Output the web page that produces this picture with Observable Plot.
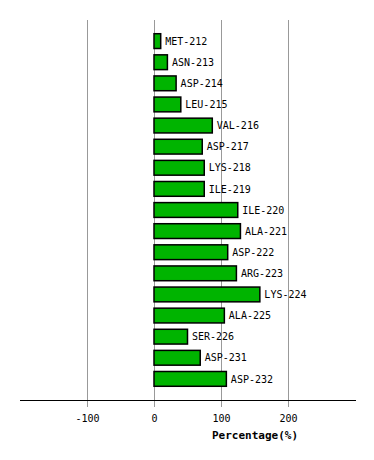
<!DOCTYPE html>
<html>
<head>
<meta charset="utf-8">
<script src="https://cdn.jsdelivr.net/npm/d3@7"></script>
<script src="https://cdn.jsdelivr.net/npm/@observablehq/plot@0.6"></script>
<style>
  html, body { margin: 0; padding: 0; background: #fff; }
</style>
</head>
<body>
<div id="chart"></div>
<script>
const residues = ["MET-212","ASN-213","ASP-214","LEU-215","VAL-216","ASP-217","LYS-218","ILE-219","ILE-220","ALA-221","ASP-222","ARG-223","LYS-224","ALA-225","SER-226","ASP-231","ASP-232"];
const percentages = [10, 20, 33, 40, 87, 72, 75, 75, 125, 129, 110, 123, 158, 105, 50, 69, 108];
const xTicks = [-100, 0, 100, 200];
const xDomain = [-200, 300];
const axisTitle = "Percentage(%)";

const data = residues.map((r, i) => ({name: r, value: percentages[i]}));
const font = "'DejaVu Sans Mono', monospace";

const chart = Plot.plot({
  width: 374,
  height: 460,
  marginLeft: 20,
  marginRight: 19,
  marginTop: 20,
  marginBottom: 60,
  style: {fontFamily: font, fontSize: "10px", background: "#fff"},
  x: {domain: xDomain, ticks: xTicks},
  y: {domain: residues, axis: null, paddingInner: 0.3, paddingOuter: 0.65, round: false},
  marks: [
    Plot.ruleX(xTicks, {stroke: "#999", strokeWidth: 1}),
    Plot.axisX(xTicks, {
      tickSize: 7, tickPadding: 7, stroke: "#999", strokeOpacity: 1,
      tickFormat: d => String(d), fill: "#000", fontSize: 10, label: null
    }),
    Plot.frame({anchor: "bottom", stroke: "#000", strokeWidth: 1}),
    Plot.barX(data, {x: "value", y: "name", fill: "#00b400", stroke: "#000", strokeWidth: 1.5}),
    Plot.text(data, {x: "value", y: "name", text: "name", textAnchor: "start", dx: 4, fill: "#000", fontSize: 10}),
    Plot.text([axisTitle], {
      x: (0 + xDomain[1]) / 2, frameAnchor: "bottom", dy: 38,
      text: d => d, fontWeight: "bold", fontSize: 11, fill: "#000"
    })
  ]
});
document.getElementById("chart").appendChild(chart);
</script>
</body>
</html>
